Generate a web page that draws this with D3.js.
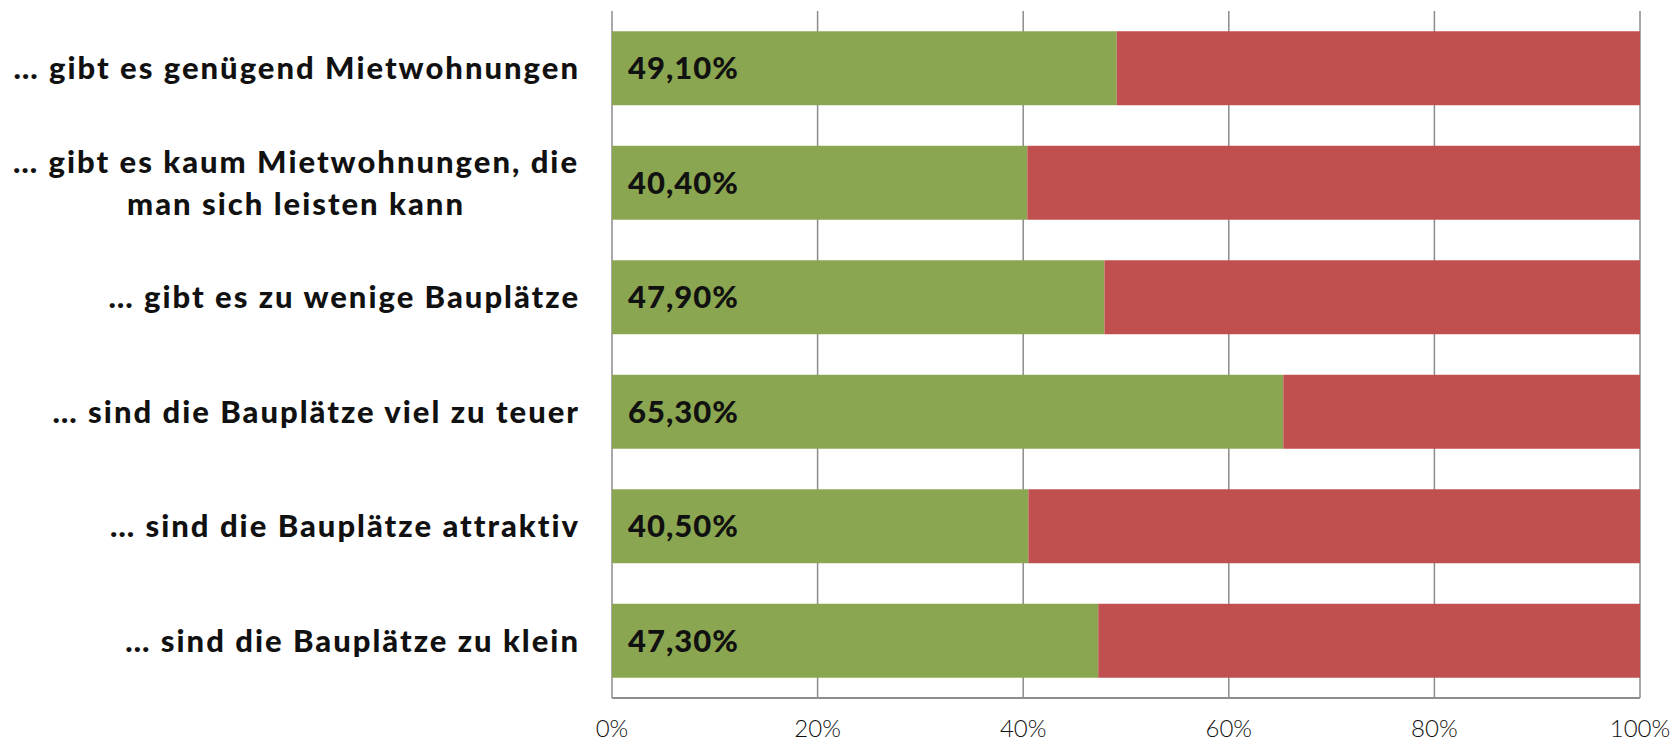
<!DOCTYPE html>
<html>
  <head>
    <meta charset="utf-8">
    <title>Bauplätze</title>
    <style>
      body { margin: 0; background: #fff; }
      text { font-family: Lato, "Open Sans", sans-serif; }
    </style>
  </head>
  <body>
    <script src="https://d3js.org/d3.v7.min.js"></script>
    <script>
      // categories (label lines) and values
      const categories = [
        ["… gibt es genügend Mietwohnungen"],
        ["… gibt es kaum Mietwohnungen, die", "man sich leisten kann"],
        ["… gibt es zu wenige Bauplätze"],
        ["… sind die Bauplätze viel zu teuer"],
        ["… sind die Bauplätze attraktiv"],
        ["… sind die Bauplätze zu klein"]
      ];
      const yesValues = [49.1, 40.4, 47.9, 65.3, 40.5, 47.3];
      const noValues = [50.9, 59.6, 52.1, 34.7, 59.5, 52.7];
      const ticks = [0, 20, 40, 60, 80, 100];

      const width = 1675, height = 741;
      const plotLeft = 612, plotRight = 1640, plotTop = 11, plotBottom = 698;

      const svg = d3.select("body").append("svg")
        .attr("width", width)
        .attr("height", height);

      const x = d3.scaleLinear().domain([0, 100]).range([plotLeft, plotRight]);
      const y = d3.scaleBand()
        .domain(d3.range(categories.length))
        .range([plotTop, plotBottom])
        .paddingInner(0.354)
        .paddingOuter(0.177);

      // grid lines
      svg.selectAll("line.grid")
        .data(ticks)
        .enter()
        .append("line")
        .attr("class", "grid")
        .attr("x1", (d) => x(d))
        .attr("x2", (d) => x(d))
        .attr("y1", plotTop)
        .attr("y2", plotBottom)
        .attr("stroke", "#8c8c8c")
        .attr("stroke-width", 1.5);

      const rows = categories.map((c, i) => ({ i: i, yes: yesValues[i], no: noValues[i] }));

      svg.selectAll("rect.yes")
        .data(rows)
        .enter()
        .append("rect")
        .attr("class", "yes")
        .attr("x", x(0))
        .attr("y", (d) => y(d.i))
        .attr("width", (d) => x(d.yes) - x(0))
        .attr("height", y.bandwidth())
        .attr("fill", "#8ba650");

      svg.selectAll("rect.no")
        .data(rows)
        .enter()
        .append("rect")
        .attr("class", "no")
        .attr("x", (d) => x(d.yes))
        .attr("y", (d) => y(d.i))
        .attr("width", (d) => x(d.yes + d.no) - x(d.yes))
        .attr("height", y.bandwidth())
        .attr("fill", "#c0504f");

      // bottom axis line
      svg.append("line")
        .attr("x1", x(0))
        .attr("x2", x(100))
        .attr("y1", plotBottom)
        .attr("y2", plotBottom)
        .attr("stroke", "#8c8c8c")
        .attr("stroke-width", 2);

      // value labels
      svg.selectAll("text.val")
        .data(rows)
        .enter()
        .append("text")
        .attr("class", "val")
        .attr("x", x(0) + 16)
        .attr("y", (d) => y(d.i) + y.bandwidth() / 2)
        .attr("dy", "0.35em")
        .attr("font-size", 31)
        .attr("font-weight", 900)
        .attr("letter-spacing", 1)
        .attr("fill", "#111")
        .text((d) => d.yes.toFixed(2).replace(".", ",") + "%");

      // category labels
      const labels = svg.selectAll("text.cat")
        .data(categories)
        .enter()
        .append("text")
        .attr("class", "cat")
        .attr("text-anchor", "middle")
        .attr("font-size", 31)
        .attr("font-weight", 900)
        .attr("letter-spacing", 2)
        .attr("fill", "#111")
        .attr("y", (d, i) => y(i) + y.bandwidth() / 2);

      labels.each(function (lines) {
        const t = d3.select(this);
        const n = lines.length;
        lines.forEach((line, k) => {
          t.append("tspan")
            .attr("x", 296)
            .attr("dy", k === 0 ? (0.35 - (n - 1) * 0.68) + "em" : "1.36em")
            .text(line);
        });
      });
      // single line labels are right aligned, multi line centred
      labels.filter((d) => d.length === 1)
        .attr("text-anchor", "end")
        .selectAll("tspan").attr("x", 580);

      // tick labels
      svg.selectAll("text.tick")
        .data(ticks)
        .enter()
        .append("text")
        .attr("class", "tick")
        .attr("x", (d) => x(d))
        .attr("y", 737)
        .attr("text-anchor", "middle")
        .attr("font-size", 24)
        .attr("font-weight", 300)
        .attr("fill", "#111")
        .text((d) => d + "%");
    </script>
  </body>
</html>
